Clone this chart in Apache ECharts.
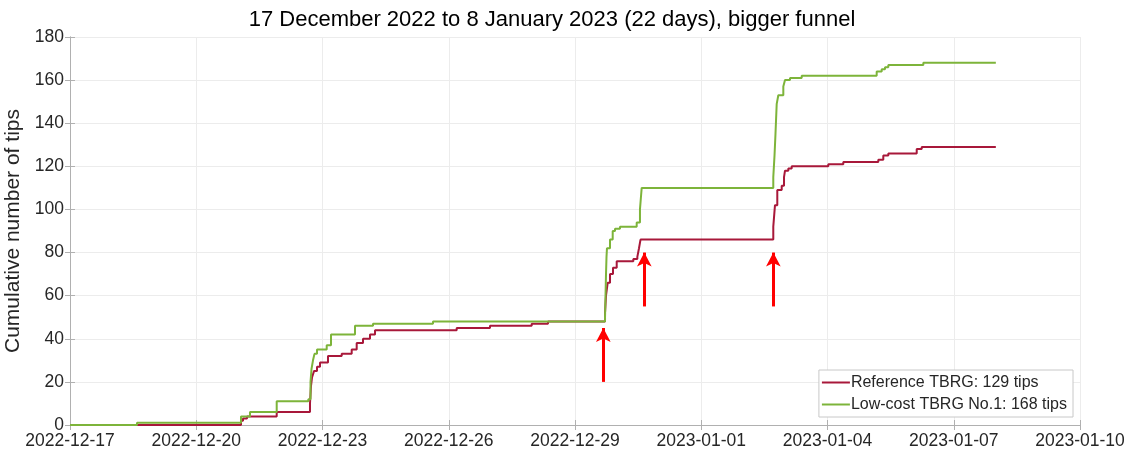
<!DOCTYPE html>
<html>
<head>
<meta charset="utf-8">
<style>
  html, body { margin: 0; padding: 0; background: #fff; }
  #chart { width: 1133px; height: 454px; }
</style>
<script src="https://cdn.jsdelivr.net/npm/echarts@6/dist/echarts.min.js"></script>
</head>
<body>
<div id="chart"></div>
<script>
// Time origin of the x axis (days are counted from here, UTC)
const startDate = '2022-12-17 00:00';
const xTickStep = 3;      // days between date ticks
const xMaxDays = 24;      // 2023-01-10

// Reference TBRG: cumulative tips, each value holds from its time until the next
const refTimes = [
  '2022-12-17 00:00', '2022-12-21 01:31', '2022-12-21 02:40', '2022-12-21 04:57',
  '2022-12-21 21:53', '2022-12-22 16:52', '2022-12-22 17:26', '2022-12-22 18:01',
  '2022-12-22 19:09', '2022-12-22 20:52', '2022-12-22 22:35', '2022-12-23 03:08',
  '2022-12-23 10:57', '2022-12-23 16:39', '2022-12-23 19:30', '2022-12-23 23:06',
  '2022-12-24 03:05', '2022-12-24 05:57', '2022-12-26 04:32', '2022-12-26 23:31',
  '2022-12-27 23:18', '2022-12-28 08:36', '2022-12-29 17:07', '2022-12-29 17:41',
  '2022-12-29 18:39', '2022-12-29 19:58', '2022-12-29 21:40', '2022-12-29 23:47',
  '2022-12-30 09:16', '2022-12-30 11:33', '2022-12-30 12:30', '2022-12-30 13:22',
  '2023-01-02 17:05', '2023-01-02 18:03', '2023-01-02 19:22', '2023-01-02 21:53',
  '2023-01-02 23:12', '2023-01-02 23:46', '2023-01-03 01:39', '2023-01-03 03:35',
  '2023-01-04 00:27', '2023-01-04 09:01', '2023-01-05 04:58', '2023-01-05 07:49',
  '2023-01-05 10:41', '2023-01-06 02:53', '2023-01-06 05:44', '2023-01-08 00:00'
];
const refTips = [
  0, 2, 3, 4,
  6, 10, 18, 22,
  25, 27, 29, 32,
  33, 35, 38, 40,
  42, 44, 45, 46,
  47, 48, 52, 60,
  66, 70, 73, 76,
  77, 78, 82, 86,
  92, 102, 109, 111,
  115, 118, 119, 120,
  121, 122, 123, 125,
  126, 128, 129, 129
];

// Low-cost TBRG No.1: cumulative tips
const lowTimes = [
  '2022-12-17 00:00', '2022-12-18 14:13', '2022-12-21 01:31', '2022-12-21 06:39',
  '2022-12-21 21:53', '2022-12-22 15:55', '2022-12-22 17:10', '2022-12-22 17:44',
  '2022-12-22 18:35', '2022-12-22 19:26', '2022-12-22 20:52', '2022-12-23 02:24',
  '2022-12-23 04:51', '2022-12-23 18:32', '2022-12-24 04:48', '2022-12-25 15:01',
  '2022-12-29 17:07', '2022-12-29 17:24', '2022-12-29 17:41', '2022-12-29 17:58',
  '2022-12-29 18:14', '2022-12-29 19:58', '2022-12-29 21:30', '2022-12-29 22:49',
  '2022-12-30 01:39', '2022-12-30 11:11', '2022-12-30 13:03', '2022-12-30 13:38',
  '2022-12-30 14:02', '2023-01-02 17:05', '2023-01-02 17:47', '2023-01-02 18:20',
  '2023-01-02 19:02', '2023-01-02 19:57', '2023-01-02 22:48', '2023-01-02 23:46',
  '2023-01-03 02:37', '2023-01-03 09:17', '2023-01-05 04:03', '2023-01-05 06:55',
  '2023-01-05 08:48', '2023-01-05 10:41', '2023-01-06 06:39', '2023-01-08 00:00'
];
const lowTips = [
  0, 1, 4, 6,
  11, 12, 20, 26,
  30, 33, 35, 37,
  42, 46, 47, 48,
  50, 60, 70, 78,
  82, 86, 90, 91,
  92, 94, 100, 106,
  110, 115, 125, 135,
  149, 153, 157, 160,
  161, 162, 164, 165,
  166, 167, 168, 168
];

// Red arrows marking the events
const arrowTimes = ['2022-12-29 16:09', '2022-12-30 15:32', '2023-01-02 17:07'];
const arrowFrom = [20, 55, 55];
const arrowTo = [45, 80, 80];

const seriesNames = ['Reference TBRG: 129 tips', 'Low-cost TBRG No.1: 168 tips'];
const titleText = '17 December 2022 to 8 January 2023 (22 days), bigger funnel';
const yAxisTitle = 'Cumulative number of tips';

function toUTC(s) {
  const [d, t] = s.split(' ');
  const [Y, M, D] = d.split('-').map(Number);
  const [h, m] = (t || '00:00').split(':').map(Number);
  return Date.UTC(Y, M - 1, D, h, m);
}
const t0 = toUTC(startDate);
const DAY = 86400000;
function toDays(s) { return (toUTC(s) - t0) / DAY; }
function pad(n) { return (n < 10 ? '0' : '') + n; }
function dayLabel(v) {
  const dt = new Date(t0 + v * DAY);
  return dt.getUTCFullYear() + '-' + pad(dt.getUTCMonth() + 1) + '-' + pad(dt.getUTCDate());
}

const refData = refTimes.map((s, i) => [toDays(s), refTips[i]]);
const lowData = lowTimes.map((s, i) => [toDays(s), lowTips[i]]);
const arrowLines = arrowTimes.map((s, i) => [
  { coord: [toDays(s), arrowFrom[i]] },
  { coord: [toDays(s), arrowTo[i]] }
]);

const FONT = '"Liberation Sans", Arial, Helvetica, sans-serif';
const AXIS_GREY = '#b0b0b0';
const TEXT = '#262626';
const LEGEND_LINE = 'path://M0,0 L28,0 L28,2 L0,2 Z';

const chart = echarts.init(document.getElementById('chart'), null, { renderer: 'canvas' });
chart.setOption({
  animation: false,
  backgroundColor: '#ffffff',
  textStyle: { fontFamily: FONT },
  title: {
    text: titleText,
    left: 547, top: 4, textAlign: 'center',
    textStyle: { fontFamily: FONT, fontSize: 22, fontWeight: 'normal', color: '#000' }
  },
  grid: { left: 70, right: 53, top: 37, bottom: 29, containLabel: false, outerBoundsMode: 'none' },
  legend: {
    orient: 'vertical',
    right: 60, bottom: 37,
    padding: [3, 6, 3, 3],
    itemGap: 3,
    itemWidth: 28, itemHeight: 2,
    icon: LEGEND_LINE,
    backgroundColor: '#fff',
    borderColor: '#c8c8c8', borderWidth: 1,
    textStyle: { fontFamily: FONT, fontSize: 16, color: TEXT, padding: [0, 0, 0, -4], lineHeight: 19 },
    data: seriesNames
  },
  xAxis: [{
    type: 'value', min: 0, max: xMaxDays, interval: xTickStep,
    axisLine: { show: true, lineStyle: { color: AXIS_GREY, width: 1 } },
    axisTick: { show: true, inside: true, length: 5, lineStyle: { color: AXIS_GREY } },
    axisLabel: { formatter: dayLabel, fontSize: 17.5, color: TEXT, margin: 7, fontFamily: FONT },
    splitLine: { show: true, lineStyle: { color: '#ececec', width: 1 } }
  }, {
    type: 'value', position: 'top', min: 0, max: xMaxDays, interval: xTickStep,
    axisLine: { show: true, lineStyle: { color: AXIS_GREY, width: 1 } },
    axisTick: { show: true, inside: true, length: 5, lineStyle: { color: AXIS_GREY } },
    axisLabel: { show: false }, splitLine: { show: false }
  }],
  yAxis: [{
    type: 'value', min: 0, max: 180, interval: 20,
    name: yAxisTitle, nameLocation: 'middle', nameGap: 39,
    nameTextStyle: { fontFamily: FONT, fontSize: 21, color: TEXT },
    axisLine: { show: true, lineStyle: { color: AXIS_GREY, width: 1 } },
    axisTick: { show: true, inside: true, length: 5, lineStyle: { color: AXIS_GREY } },
    axisLabel: { fontSize: 17.5, color: TEXT, margin: 6, fontFamily: FONT },
    splitLine: { show: true, lineStyle: { color: '#ececec', width: 1 } }
  }, {
    type: 'value', position: 'right', min: 0, max: 180, interval: 20,
    axisLine: { show: true, lineStyle: { color: AXIS_GREY, width: 1 } },
    axisTick: { show: true, inside: true, length: 5, lineStyle: { color: AXIS_GREY } },
    axisLabel: { show: false }, splitLine: { show: false }
  }],
  series: [{
    name: seriesNames[0],
    type: 'line', step: 'end', symbol: 'none',
    data: refData,
    color: '#A8183A',
    lineStyle: { color: '#A8183A', width: 2 },
    z: 3
  }, {
    name: seriesNames[1],
    type: 'line', step: 'end', symbol: 'none',
    data: lowData,
    color: '#7DB43A',
    lineStyle: { color: '#7DB43A', width: 2 },
    z: 4,
    markLine: {
      silent: true,
      symbol: ['none', 'arrow'],
      symbolSize: [11, 14],
      label: { show: false },
      lineStyle: { color: '#ff0000', width: 3, type: 'solid' },
      data: arrowLines
    }
  }]
});
</script>
</body>
</html>
